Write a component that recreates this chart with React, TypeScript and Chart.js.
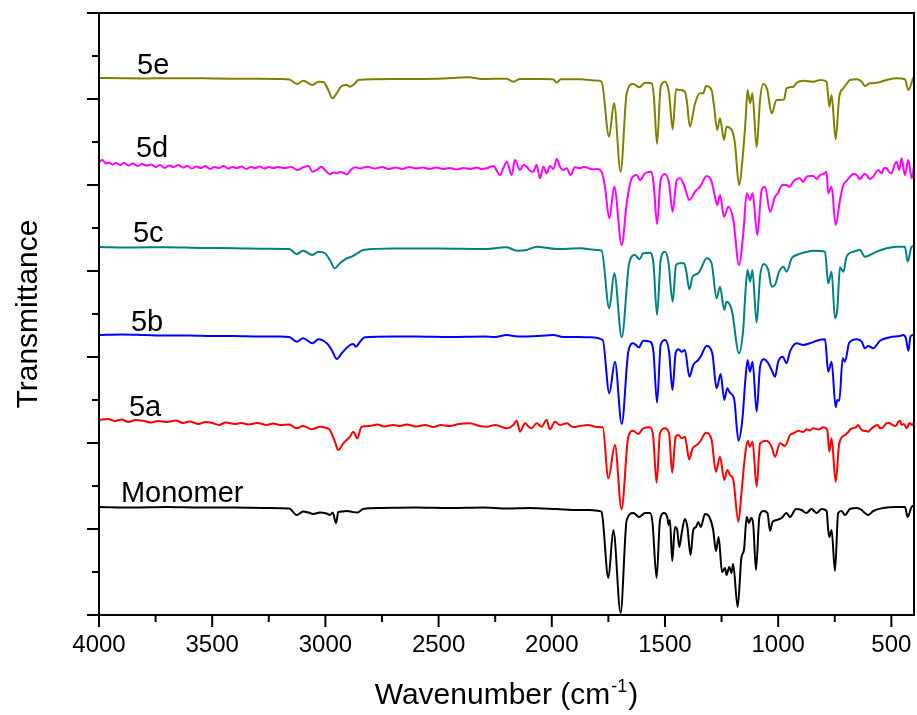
import React, { useEffect, useRef } from 'react';
import { Chart, registerables } from 'chart.js';

Chart.register(...registerables);

// Axis ticks
const xTicksMajor = [4000, 3500, 3000, 2500, 2000, 1500, 1000, 500];
const xTicksMinor = [3750, 3250, 2750, 2250, 1750, 1250, 750];
const yTicksMajor = [0, 86, 172, 258, 344, 430, 516, 602];
const yTicksMinor = [43, 129, 215, 301, 387, 473, 559];

const seriesNames = ['Monomer', '5a', '5b', '5c', '5d', '5e'];
const seriesColors = ['#000000', '#FF0000', '#0000FF', '#008080', '#FF00FF', '#808000'];
// label anchors (wavenumber, transmittance a.u.)
const labelWn = [3903, 3868, 3859, 3850, 3837, 3832];
const labelY = [113, 199, 284, 373, 458, 541];

// Spectra: [wavenumber (cm-1), transmittance (a.u., offset)]
const monomer: [number, number][] = [
  [4000,108],[3850,107.5],[3700,108],[3550,107.5],[3400,107.5],[3250,107],[3160,106.5],[3127,100],[3098,103.5],[3075,102.5],
  [3053,101],[3024,102.5],[2995,101.5],[2980,100],[2968,102.5],[2953,92],[2943,103],[2925,103.5],[2906,104],[2880,103],
  [2859,102.5],[2833,106],[2750,107],[2600,107.5],[2450,107],[2300,107.5],[2200,106.5],[2100,107],[1980,106],[1880,105],
  [1831,105],[1790,104],[1780,103],[1750,37],[1728,85],[1696,2],[1669,95],[1640,102],[1614,98],[1588,102],[1566,102],
  [1555,92],[1537,37],[1522,95],[1504,102],[1490,98],[1484,90],[1478,95],[1468,54],[1456,88],[1446,85],[1437,68],
  [1426,82],[1412,96],[1401,88],[1387,60],[1375,85],[1363,88],[1353,93],[1342,88],[1323,101],[1304,98],[1287,85],
  [1275,64],[1263,78],[1248,43],[1235,47],[1228,40],[1216,48],[1206,42],[1199,51],[1179,8],[1162,58],[1151,65],
  [1139,98],[1129,92],[1120,97],[1110,90],[1098,45],[1083,98],[1066,104],[1047,102],[1036,84],[1025,93],[1007,95],
  [985,97],[963,102],[948,98],[921,106],[897,105],[875,102],[853,106],[830,102],[808,106],[786,104],[779,85],[774,78],
  [764,85],[749,44],[735,102],[720,104],[705,100],[683,106],[653,107],[631,105],[617,102],[602,100],[580,104],[536,107],
  [477,108],[440,108],[428,98],[411,108],[396,110],
];

const s5a: [number, number][] = [
  [4000,195],[3960,196],[3930,194],[3900,195.5],[3870,193],[3840,195],[3800,194],[3770,192.5],[3740,194],[3700,193],
  [3660,194.5],[3630,192],[3600,193.5],[3560,191],[3530,193],[3500,192],[3470,190],[3440,192.5],[3400,191],[3370,192],
  [3340,190.5],[3300,192],[3260,190],[3230,191.5],[3200,190],[3160,190.5],[3127,186.7],[3098,189],[3061,185.7],[3024,188.3],
  [2995,187],[2980,185],[2958,173.3],[2943,165],[2921,171.7],[2891,178.3],[2877,183.3],[2859,176.7],[2840,188.3],[2804,189],
  [2770,190.5],[2740,188.5],[2700,190],[2671,189],[2640,190.5],[2600,188.5],[2560,190],[2523,188],[2490,190],[2450,189],
  [2410,191],[2361,191.7],[2320,189],[2287,188.3],[2250,190],[2220,188],[2199,186.7],[2170,190],[2155,194.3],[2140,183.3],
  [2118,191.7],[2100,188],[2089,186.7],[2067,191.7],[2045,188.3],[2023,195],[2008,185.7],[1986,193.3],[1964,190],[1934,191.7],
  [1905,188],[1876,189],[1840,190],[1800,188],[1775,187.7],[1750,136.7],[1721,170],[1692,105.7],[1662,178.3],[1640,184.3],
  [1618,181],[1596,186.7],[1566,187.7],[1552,178.3],[1537,132.3],[1522,181.7],[1500,186.7],[1482,181.7],[1468,142.3],[1453,178.3],
  [1441,180],[1426,176.7],[1412,178.3],[1393,155.7],[1378,166.7],[1360,170],[1345,173.3],[1319,182.3],[1294,175],[1275,143.3],
  [1257,158.3],[1238,135],[1225,145],[1213,140],[1198,135],[1176,93.3],[1161,125],[1147,158.3],[1135,174.3],[1125,168.3],
  [1113,173.3],[1095,128.3],[1080,171.7],[1051,174.3],[1029,168.3],[1014,158.3],[992,171.7],[970,169],[948,180],[930,182],
  [911,184.3],[890,183],[875,185.7],[860,184.5],[845,186.7],[820,185.5],[801,187.7],[783,185],[774,163.3],[764,176.7],
  [746,133.3],[730,171.7],[705,180],[690,183],[680,186],[668,186.7],[655,188],[646,190],[635,186],[624,184.3],
  [612,184],[602,183.3],[590,186],[572,189],[560,190],[550,186.7],[540,187],[521,191.7],[510,192],[495,190],
  [480,189],[470,193],[462,194.3],[455,190],[445,191],[432,186.7],[420,192],[408,190],[396,195],
];

const s5b: [number, number][] = [
  [4000,280],[3900,280.5],[3800,280],[3700,279.5],[3600,279.5],[3500,279],[3400,279],[3300,278.5],[3200,278.5],[3160,278],
  [3127,273.3],[3098,276.7],[3057,271.7],[3031,275.7],[2994,271.7],[2972,265],[2950,256],[2928,261.7],[2891,270],[2877,271],
  [2865,268.3],[2847,273.3],[2826,277.7],[2700,278.5],[2600,278.5],[2450,278],[2300,278.5],[2250,278],[2199,280],[2150,278.5],
  [2080,278.8],[1993,280],[1950,278],[1880,278],[1831,277.7],[1775,275],[1746,221.7],[1721,253.3],[1691,191],[1662,263.3],
  [1640,271.7],[1615,267.7],[1596,274.3],[1566,273.3],[1551,263.3],[1535,212.3],[1519,270],[1500,275],[1482,263.3],[1467,225],
  [1453,261.7],[1441,265.7],[1426,263.3],[1412,265],[1392,238.3],[1375,250],[1353,255],[1341,259],[1316,269],[1291,261.7],
  [1272,226.7],[1254,241],[1238,215],[1225,226.7],[1213,222.3],[1195,216.7],[1175,174.3],[1157,198.3],[1145,235],[1135,255],
  [1125,243.3],[1113,253.3],[1095,203.3],[1080,248.3],[1063,255.7],[1044,251.7],[1029,245],[1014,238.3],[1000,253.3],[980,258.3],
  [963,251.7],[948,263.3],[918,271.7],[889,270],[860,271.7],[830,274.3],[793,275.7],[779,243.3],[764,253.3],[746,207.7],
  [739,215],[730,214.3],[715,256.7],[705,253.3],[686,272.3],[653,275.7],[631,273.3],[617,266.7],[602,269],[580,266.7],
  [550,274.3],[506,277.7],[462,279],[447,280],[436,276.7],[425,264.3],[415,279],[396,280],
];

const s5c: [number, number][] = [
  [4000,368],[3850,367.5],[3700,367.8],[3550,367],[3400,366.8],[3250,366.3],[3160,366],[3127,361],[3098,364.3],[3057,360],
  [3031,363.3],[3002,361.7],[2980,355],[2958,346.7],[2936,351.7],[2906,356.7],[2884,358.3],[2859,361.7],[2833,365],[2700,366.5],
  [2500,366.5],[2300,366],[2199,367.7],[2155,364.3],[2111,365],[2067,368.3],[1980,366],[1875,366.7],[1800,365],[1780,364.3],
  [1746,306.7],[1724,341.7],[1691,277.7],[1658,351.7],[1632,360],[1613,355.7],[1596,361.7],[1566,362.3],[1551,351.7],[1535,300],
  [1519,355],[1500,363.3],[1485,353.3],[1466,313.3],[1451,350],[1434,351.7],[1416,351.7],[1407,345],[1392,325.7],[1378,338.3],
  [1353,341.7],[1342,345.7],[1316,356.7],[1294,351.7],[1272,316.7],[1257,328.3],[1238,305],[1228,313.3],[1205,305],[1173,261.7],
  [1154,286.7],[1144,325],[1135,345],[1124,333.3],[1114,345],[1095,292.3],[1080,338.3],[1063,351],[1044,345],[1029,328.3],
  [1014,330],[996,343.3],[977,348.3],[963,343.3],[940,356.7],[918,360],[889,362.3],[845,364.3],[793,363.3],[779,331.7],
  [764,343.3],[749,296.7],[739,305],[727,347.7],[712,343.3],[698,358.3],[668,363.3],[639,365],[617,358.3],[595,360],
  [565,363.3],[521,366.7],[477,368.3],[440,368.3],[428,353.3],[410,368.3],[396,369],
];

const s5d: [number, number][] = [
  [4000,453],[3985,455],[3970,451.5],[3955,452.5],[3940,450.5],[3925,452],[3905,450],[3890,452],[3870,449.5],[3850,451.5],
  [3830,449],[3810,451],[3790,449.5],[3770,450.5],[3750,448],[3730,450],[3710,447],[3690,449.5],[3670,448],[3650,450],
  [3630,447.5],[3610,449],[3590,446.5],[3570,448.5],[3550,447],[3530,449],[3510,446],[3490,448],[3470,447],[3450,449],
  [3430,446.5],[3410,448],[3390,447],[3370,448.5],[3350,446],[3330,448],[3310,447],[3290,448.5],[3270,446.5],[3250,448],
  [3230,447],[3210,448],[3180,447],[3150,448],[3124,445],[3098,447.7],[3075,449],[3057,443.3],[3038,445],[3018,448.3],
  [3002,445],[2980,440.7],[2965,442.5],[2950,441.7],[2935,443],[2921,442.3],[2905,440.5],[2891,444.3],[2869,447.7],[2845,446.5],
  [2818,448.3],[2780,446.5],[2750,448],[2720,446],[2690,447.5],[2660,446],[2630,448],[2600,446.5],[2570,447.5],[2540,446],
  [2510,447.5],[2480,446],[2450,447],[2420,445.5],[2390,447],[2360,446],[2330,447.5],[2310,446],[2288,446.7],[2258,449],
  [2229,440],[2214,446.7],[2199,453.3],[2177,440],[2163,455],[2140,445],[2125,450],[2111,448.3],[2095,444],[2082,443.3],
  [2067,450],[2052,436.7],[2037,448.3],[2023,441.7],[2008,449],[1993,446],[1978,456],[1964,448.3],[1950,445],[1934,446.7],
  [1917,440],[1898,447.7],[1875,446.7],[1860,448],[1846,447.7],[1830,446],[1817,445.7],[1800,446],[1780,443.3],[1765,428.3],
  [1746,396.7],[1724,428.3],[1691,370],[1669,411.7],[1647,436.7],[1625,440],[1610,435],[1588,441.7],[1559,443.3],[1549,428.3],
  [1535,391],[1519,435],[1500,441],[1482,431.7],[1466,403.3],[1448,435],[1434,436.7],[1416,430],[1392,415],[1367,423.3],
  [1345,428.3],[1316,439],[1294,433.3],[1279,418.3],[1269,410],[1257,420],[1239,398.3],[1220,408.3],[1198,395],[1173,350],
  [1154,381.7],[1139,421.7],[1124,415],[1113,421.7],[1092,380],[1073,425],[1058,428.3],[1036,403.3],[1014,418.3],[1000,422],
  [992,426.7],[980,430],[963,430],[950,428],[933,433.3],[920,436],[904,436.7],[890,433],[874,438.3],[860,439],
  [845,439],[830,436],[815,440],[800,441],[786,443.3],[779,421.7],[764,428.3],[746,390],[727,415],[712,430],
  [698,434],[683,438.3],[668,441],[653,440],[640,436],[631,437.7],[620,441],[609,440],[595,436],[580,438.3],
  [570,442],[558,445],[543,441.7],[532,447],[521,446.7],[510,443],[499,441.7],[488,449],[477,453.3],[465,445],
  [455,456.7],[440,440],[425,455],[410,436.7],[396,456.7],
];

const s5e: [number, number][] = [
  [4000,537],[3900,536.7],[3800,536.5],[3700,536.8],[3600,536.8],[3500,536.5],[3400,536.3],[3300,536.2],[3200,536],[3160,535.5],
  [3124,531],[3098,534.3],[3057,530],[3031,533.3],[3009,533],[2987,525],[2969,516.7],[2950,521.7],[2928,529],[2906,530],
  [2891,528.3],[2869,531.7],[2855,535],[2700,536],[2500,536.3],[2369,537.7],[2300,536],[2200,536.3],[2170,533.3],[2140,536],
  [2050,536],[1995,535.8],[1978,532.3],[1960,535.8],[1875,535.7],[1800,534.5],[1780,533.3],[1747,478.3],[1725,511.7],[1696,443.3],
  [1669,521.7],[1640,531],[1613,527.7],[1588,532.3],[1559,531.7],[1549,518.3],[1535,471],[1519,528.3],[1500,533.3],[1482,521.7],
  [1466,485.7],[1451,525.7],[1434,525],[1412,523.3],[1404,515],[1390,488.3],[1367,511.7],[1345,521.7],[1331,521.7],[1319,529],
  [1294,525],[1283,508.3],[1269,485],[1257,496.7],[1239,475],[1228,488.3],[1205,485],[1191,471.7],[1173,430],[1154,465],
  [1144,495],[1135,525],[1124,511.7],[1114,521.7],[1095,467.7],[1080,515],[1066,531],[1048,525],[1029,501.7],[1007,515],
  [992,515],[974,515.7],[963,526.7],[933,528.3],[918,532.3],[889,534.3],[845,533.3],[815,535],[786,533.3],[774,508.3],
  [764,520],[746,475.7],[730,518.3],[712,526.7],[698,531],[683,535],[653,535.7],[631,533.3],[617,529],[595,531.7],
  [565,532.3],[521,535],[477,536.7],[440,535.7],[425,525],[403,537.7],
];

const allSeries = [monomer, s5a, s5b, s5c, s5d, s5e];

const FONT = '"Liberation Sans", Arial, Helvetica, sans-serif';

export default function App() {
  const ref = useRef<HTMLCanvasElement | null>(null);

  useEffect(() => {
    const canvas = ref.current;
    if (!canvas) return;

    const decor = {
      id: 'decor',
      afterDraw(chart: any) {
        const { ctx, chartArea: ca, scales } = chart;
        const sx = scales.x;
        const sy = scales.y;
        ctx.save();
        ctx.strokeStyle = '#000';
        ctx.lineWidth = 2;
        ctx.strokeRect(ca.left, ca.top, ca.right - ca.left, ca.bottom - ca.top);
        ctx.beginPath();
        xTicksMajor.forEach((v) => {
          const p = sx.getPixelForValue(v);
          ctx.moveTo(p, ca.bottom);
          ctx.lineTo(p, ca.bottom + 12);
        });
        xTicksMinor.forEach((v) => {
          const p = sx.getPixelForValue(v);
          ctx.moveTo(p, ca.bottom);
          ctx.lineTo(p, ca.bottom + 7);
        });
        yTicksMajor.forEach((v) => {
          const p = sy.getPixelForValue(v);
          ctx.moveTo(ca.left, p);
          ctx.lineTo(ca.left - 12, p);
        });
        yTicksMinor.forEach((v) => {
          const p = sy.getPixelForValue(v);
          ctx.moveTo(ca.left, p);
          ctx.lineTo(ca.left - 7, p);
        });
        ctx.stroke();

        // series labels
        ctx.fillStyle = '#000';
        ctx.font = '29px ' + FONT;
        ctx.textAlign = 'left';
        ctx.textBaseline = 'alphabetic';
        seriesNames.forEach((n, i) => {
          ctx.fillText(n, sx.getPixelForValue(labelWn[i]), sy.getPixelForValue(labelY[i]));
        });

        // x title with superscript
        const main = 'Wavenumber (cm';
        const sup = '-1';
        const end = ')';
        ctx.font = '30px ' + FONT;
        const w1 = ctx.measureText(main).width;
        const w3 = ctx.measureText(end).width;
        ctx.font = '18px ' + FONT;
        const w2 = ctx.measureText(sup).width;
        const total = w1 + w2 + w3 + 2;
        const x0 = (ca.left + ca.right) / 2 - total / 2;
        const base = ca.bottom + 89;
        ctx.font = '30px ' + FONT;
        ctx.fillText(main, x0, base);
        ctx.font = '18px ' + FONT;
        ctx.fillText(sup, x0 + w1 + 1, base - 12);
        ctx.font = '30px ' + FONT;
        ctx.fillText(end, x0 + w1 + w2 + 2, base);

        // y title
        ctx.save();
        ctx.translate(36.5, (ca.top + ca.bottom) / 2);
        ctx.rotate(-Math.PI / 2);
        ctx.textAlign = 'center';
        ctx.font = '30px ' + FONT;
        ctx.fillText('Transmittance', 0, 0);
        ctx.restore();

        ctx.restore();
      },
    };

    const chart = new Chart(canvas, {
      type: 'line',
      data: {
        datasets: allSeries.map((s, i) => ({
          label: seriesNames[i],
          data: s.map(([x, y]) => ({ x, y })),
          borderColor: seriesColors[i],
          backgroundColor: seriesColors[i],
          borderWidth: 2,
          pointRadius: 0,
          fill: false,
          cubicInterpolationMode: 'monotone' as const,
        })),
      },
      options: {
        animation: false,
        responsive: false,
        devicePixelRatio: 1,
        layout: { padding: { left: 0, right: 3, top: 13, bottom: 0 } },
        plugins: { legend: { display: false }, tooltip: { enabled: false } },
        scales: {
          x: {
            type: 'linear',
            reverse: true,
            min: 400,
            max: 4000,
            afterBuildTicks: (s: any) => {
              s.ticks = xTicksMajor.map((v) => ({ value: v }));
            },
            afterFit: (s: any) => {
              s.height = 100;
            },
            grid: { display: true, drawOnChartArea: false, drawTicks: true, tickLength: 12, color: 'rgba(0,0,0,0)' },
            border: { display: false },
            ticks: {
              color: '#000',
              font: { family: FONT, size: 24 },
              padding: 4,
              maxRotation: 0,
              autoSkip: false,
              callback: (v: any) => String(v),
            },
          },
          y: {
            type: 'linear',
            min: 0,
            max: 602,
            afterBuildTicks: (s: any) => {
              s.ticks = yTicksMajor.map((v) => ({ value: v }));
            },
            afterFit: (s: any) => {
              s.width = 99;
            },
            grid: { display: false },
            border: { display: false },
            ticks: { display: false },
          },
        },
      },
      plugins: [decor],
    });

    return () => chart.destroy();
  }, []);

  return (
    <div style={{ position: 'absolute', left: 0, top: 0, width: 917, height: 715, background: '#fff' }}>
      <canvas ref={ref} width={917} height={715} style={{ display: 'block' }} />
    </div>
  );
}
